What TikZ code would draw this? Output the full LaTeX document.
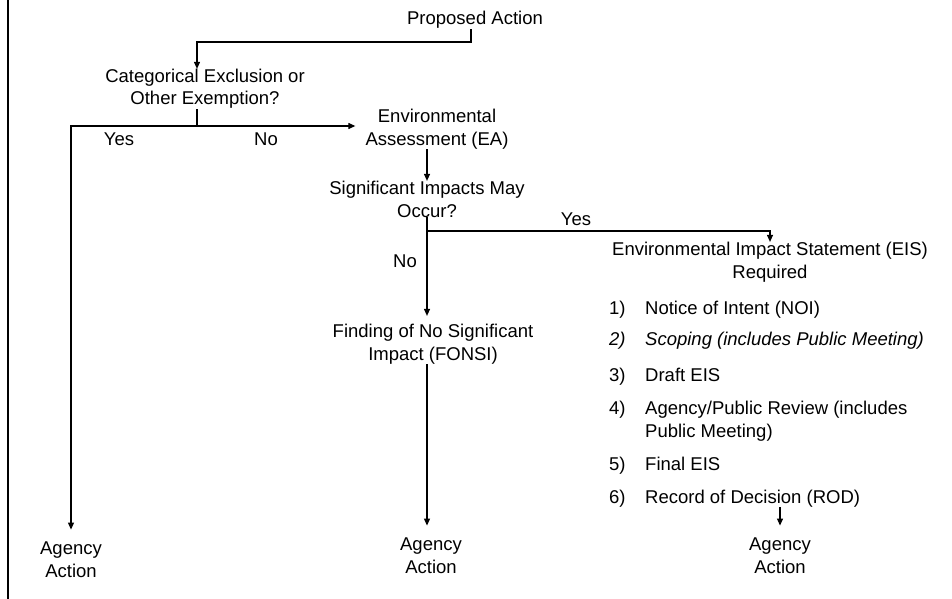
\documentclass[tikz,border=0pt]{standalone}
\usepackage{fontspec}
\setmainfont{Liberation Sans}
\usetikzlibrary{arrows.meta,positioning}

\tikzset{
  txt/.style={inner sep=0pt, align=center, anchor=base, font=\fontsize{18.5}{22.5}\selectfont},
  item/.style={txt, align=left, anchor=base west},
  agency/.style={txt, inner ysep=12pt},
  link/.style={line width=1.1pt},
  flow/.style={link, -{Triangle[length=7pt,width=6pt]}}
}

\begin{document}
\begin{tikzpicture}[x=1pt,y=-1pt]
    \useasboundingbox (0,0) rectangle (952,599);
    % left frame line
    \draw[line width=2.3pt] (8,0) -- (8,599);

    % Decision nodes (base = last line)
    \node[txt] (prop) at (475,25) {Proposed Action};
    \node[txt] (cat) at (205,105) {Categorical Exclusion or\\Other Exemption?};
    \node[txt] (ea) at (437,145) {Environmental\\Assessment (EA)};
    \node[txt] (sig) at (427,217) {Significant Impacts May\\Occur?};
    \node[txt] (fonsi) at (433,360) {Finding of No Significant\\Impact (FONSI)};
    \node[txt] (eis) at (770,278) {Environmental Impact Statement (EIS)\\Required};

    % Branch labels
    \node[txt] (yes1) at (119,145) {Yes};
    \node[txt] (no1) at (266,145) {No};
    \node[txt] (yes2) at (576,225) {Yes};
    \node[txt] (no2) at (405,267) {No};

    % EIS steps
    \node[item] (n1) at (609,314) {1)};
    \node[item] (t1) at (645,314) {Notice of Intent (NOI)};
    \node[item] (n2) at (609,345) {\itshape 2)};
    \node[item] (t2) at (645,345) {\itshape Scoping (includes Public Meeting)};
    \node[item] (n3) at (609,381) {3)};
    \node[item] (t3) at (645,381) {Draft EIS};
    \node[item] (n4) at (609,414) {4)};
    \node[item] (t4) at (645,437) {Agency/Public Review (includes\\Public Meeting)};
    \node[item] (n5) at (609,470) {5)};
    \node[item] (t5) at (645,470) {Final EIS};
    \node[item] (n6) at (609,503) {6)};
    \node[item] (t6) at (645,503) {Record of Decision (ROD)};

    % Outcomes
    \node[agency] (agL) at (71,577) {Agency\\Action};
    \node[agency] (agM) at (431,573) {Agency\\Action};
    \node[agency] (agR) at (780,573) {Agency\\Action};

    % Connectors
    \coordinate (k0) at (471,42);
    \coordinate (k1) at (197,42);
    \coordinate (k2) at (197,126);
    \coordinate (k4) at (427,231);
    \draw[flow] (prop.south -| k0) -- (k0) -- (k1) -- (cat.north -| k1);
    \draw[link] (cat.south -| k2) -- (k2);
    \draw[flow] (k2) -| (agL.north);
    \draw[flow, shorten >=10pt] (k2) -- (k2 -| ea.west);
    \draw[flow] (ea.south -| sig.north) -- (sig.north);
    \draw[link] (sig.south) -- (k4);
    \draw[flow, shorten >=8pt] (k4) -- (k4 |- fonsi.north);
    \draw[flow] (k4) -| (eis.north);
    \draw[flow] (fonsi.south -| k4) -- (k4 |- agM.north);
    \draw[flow] (t6.south -| agR.north) -- (agR.north);
\end{tikzpicture}
\end{document}
